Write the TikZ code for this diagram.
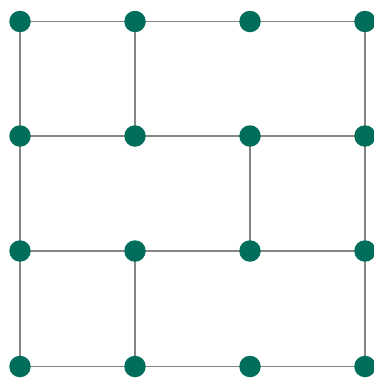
\documentclass[tikz,border=0pt]{standalone}
\usetikzlibrary{backgrounds}
\definecolor{dotgreen}{HTML}{006E5A}
\definecolor{edgegray}{HTML}{858585}
\begin{document}
\begin{tikzpicture}[x=1pt,y=-1pt,
  dot/.style={circle,fill=dotgreen,inner sep=0pt,minimum size=21.5pt},
  edge/.style={draw=edgegray,line width=1.3pt}]
\useasboundingbox (0,0) rectangle (373,378);
\foreach \i/\x in {1/20,2/135,3/250,4/365}{
  \foreach \j/\y in {1/21.5,2/136,3/251,4/366.5}{
    \node[dot] (n\i\j) at (\x,\y) {};
  }
}
\begin{scope}[on background layer]
\foreach \j in {1,2,3,4}{
  \draw[edge] (n1\j.center) -- (n2\j.center) -- (n3\j.center) -- (n4\j.center);
}
\draw[edge] (n11.center) -- (n12.center) -- (n13.center) -- (n14.center);
\draw[edge] (n41.center) -- (n42.center) -- (n43.center) -- (n44.center);
\draw[edge] (n21.center) -- (n22.center);
\draw[edge] (n23.center) -- (n24.center);
\draw[edge] (n32.center) -- (n33.center);
\end{scope}
\end{tikzpicture}
\end{document}
